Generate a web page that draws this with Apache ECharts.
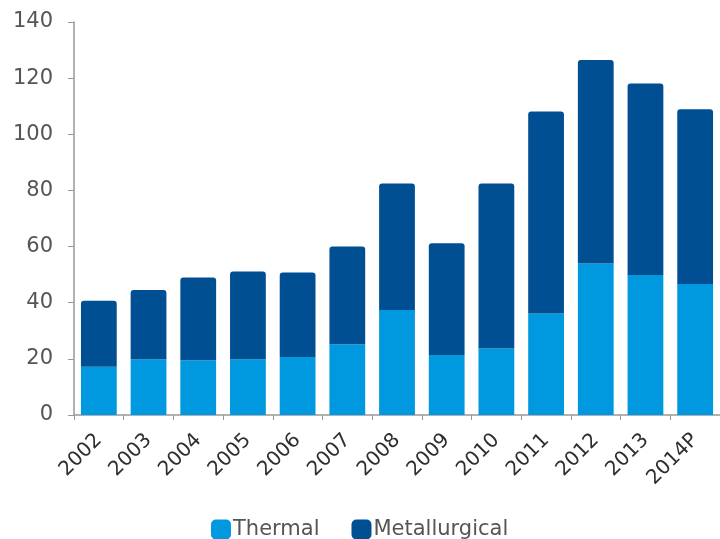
<!DOCTYPE html>
<html>
<head>
<meta charset="utf-8">
<script src="https://cdn.jsdelivr.net/npm/echarts@6/dist/echarts.min.js"></script>
<style>
  html, body { margin: 0; padding: 0; background: #fff; }
  #chart { width: 720px; height: 539px; }
</style>
</head>
<body>
<div id="chart"></div>
<script>
// Coal imports by type, 2002–2014P
const years = ['2002', '2003', '2004', '2005', '2006', '2007', '2008', '2009', '2010', '2011', '2012', '2013', '2014P'];
const thermal = [17.2, 19.9, 19.5, 19.9, 20.7, 25.2, 37.4, 21.4, 23.7, 36.2, 54.0, 49.9, 46.7];
const metallurgical = [23.5, 24.6, 29.5, 31.2, 30.1, 34.8, 45.1, 39.8, 58.8, 71.9, 72.5, 68.2, 62.2];
const yTicks = [0, 20, 40, 60, 80, 100, 120, 140];

const font = 'DejaVu Sans, Verdana, sans-serif';
const chart = echarts.init(document.getElementById('chart'));

chart.setOption({
  animation: false,
  backgroundColor: '#ffffff',
  grid: { left: 74, top: 22, bottom: 124, width: 650, containLabel: false },
  legend: {
    left: 206,
    top: 514,
    itemWidth: 20,
    itemHeight: 20,
    itemGap: 32,
    icon: 'roundRect',
    textStyle: { fontFamily: font, fontSize: 21, color: '#555555', padding: [0, 0, 0, -3] },
    data: ['Thermal', 'Metallurgical']
  },
  xAxis: {
    type: 'category',
    data: years,
    axisLine: { lineStyle: { color: '#999999', width: 1.5 } },
    axisTick: { show: true, alignWithLabel: false, length: 5, lineStyle: { color: '#999999' } },
    axisLabel: {
      rotate: 45,
      margin: 22,
      interval: 0,
      fontFamily: font,
      fontSize: 20,
      color: '#2e2e2e'
    }
  },
  yAxis: {
    type: 'value',
    min: yTicks[0],
    max: yTicks[yTicks.length - 1],
    interval: 20,
    splitLine: { show: false },
    axisLine: { show: true, lineStyle: { color: '#999999', width: 1.5 } },
    axisTick: { show: true, length: 6, lineStyle: { color: '#999999' } },
    axisLabel: { fontFamily: font, fontSize: 21, color: '#555555', margin: 21 }
  },
  series: [
    {
      name: 'Thermal',
      type: 'bar',
      stack: 'total',
      barWidth: '72%',
      itemStyle: { color: '#0098de' },
      data: thermal
    },
    {
      name: 'Metallurgical',
      type: 'bar',
      stack: 'total',
      barWidth: '72%',
      itemStyle: { color: '#004f93', borderRadius: [3, 3, 0, 0] },
      data: metallurgical
    }
  ]
});
</script>
</body>
</html>
